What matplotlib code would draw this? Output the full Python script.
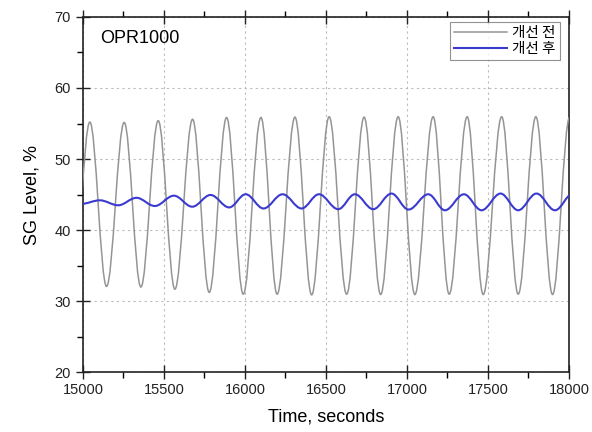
import numpy as np
import matplotlib
matplotlib.use("Agg")
import matplotlib.pyplot as plt
from matplotlib.path import Path
from matplotlib.patches import PathPatch
from matplotlib.lines import Line2D
from matplotlib.ticker import MultipleLocator

# Extrema (time, value)
gray_t = [14938, 15043, 15146, 15255, 15358, 15465, 15568, 15677, 15780, 15887,
          15990, 16099, 16199, 16309, 16412, 16520, 16628, 16736, 16838, 16946,
          17049, 17162, 17261, 17372, 17471, 17585, 17687, 17796, 17899, 18005]
gray_v = [32.0, 55.2, 32.1, 55.15, 32.0, 55.4, 31.7, 55.6, 31.25, 55.85,
          31.0, 55.85, 31.0, 55.9, 30.9, 55.95, 31.0, 55.9, 30.95, 55.95,
          30.95, 55.95, 31.0, 55.95, 30.95, 55.95, 31.0, 55.95, 30.95, 55.9]

blue_t = [14990, 15105, 15218, 15331, 15444, 15562, 15675, 15788, 15903, 16005,
          16115, 16233, 16350, 16457, 16576, 16679, 16792, 16905, 17010, 17132,
          17235, 17352, 17461, 17578, 17687, 17800, 17914, 18025]
blue_v = [43.7, 44.2, 43.5, 44.55, 43.4, 44.85, 43.3, 44.95, 43.2, 45.05,
          43.05, 45.05, 43.05, 45.05, 42.95, 45.05, 42.95, 45.15, 42.9, 45.05,
          42.8, 45.05, 42.8, 45.15, 42.8, 45.15, 42.8, 45.15]

series_labels = ["개선 전", "개선 후"]
x_ticks = [15000, 15500, 16000, 16500, 17000, 17500, 18000]
y_ticks = [20, 30, 40, 50, 60, 70]

plt.rcParams['font.family'] = ['Liberation Sans', 'DejaVu Sans']

def smooth_path(ts, vs):
    k = 1 - 2 / np.pi
    verts = [(ts[0], vs[0])]
    codes = [Path.MOVETO]
    for i in range(len(ts) - 1):
        t0, t1 = ts[i], ts[i + 1]
        v0, v1 = vs[i], vs[i + 1]
        h = (t1 - t0) * k
        verts += [(t0 + h, v0), (t1 - h, v1), (t1, v1)]
        codes += [Path.CURVE4] * 3
    return Path(verts, codes)

fig = plt.figure(figsize=(5.92, 4.32), dpi=100)
ax = fig.add_axes([0.140, 0.138, 0.821, 0.823])

gray_c = '#959595'
blue_c = '#3a3ad0'
ax.add_patch(PathPatch(smooth_path(gray_t, gray_v), fill=False, edgecolor=gray_c, lw=1.1, zorder=3))
ax.add_patch(PathPatch(smooth_path(blue_t, blue_v), fill=False, edgecolor=blue_c, lw=1.5, zorder=4))

ax.set_xlim(x_ticks[0], x_ticks[-1])
ax.set_ylim(y_ticks[0], y_ticks[-1])
ax.set_xticks(x_ticks)
ax.set_yticks(y_ticks)
ax.xaxis.set_minor_locator(MultipleLocator(250))
ax.yaxis.set_minor_locator(MultipleLocator(5))
ax.tick_params(which='major', direction='inout', length=10, width=1.0, labelsize=10.5,
               top=True, right=False, colors='#222222')
ax.tick_params(which='minor', direction='out', length=4, width=1.0, top=True, right=False)
ax.tick_params(axis='x', which='major', pad=3)
for s in ax.spines.values():
    s.set_linewidth(1.2)
    s.set_color('#222222')

ax.grid(True, which='major', linestyle=(0, (2, 3)), color='#bbbbbb', lw=0.8, zorder=0)

ax.set_xlabel('Time, seconds', fontsize=13, labelpad=8)
ax.set_ylabel('SG Level, %', fontsize=13, labelpad=10)

ax.text(0.035, 0.94, 'OPR1000', transform=ax.transAxes, fontsize=13, va='center', ha='left')

handles = [Line2D([], [], color=gray_c, lw=1.1), Line2D([], [], color=blue_c, lw=1.5)]
leg = ax.legend(handles, series_labels, loc='upper right',
                bbox_to_anchor=(0.982, 0.986),
                prop={'family': ['Noto Sans CJK KR', 'DejaVu Sans'], 'size': 10.5},
                frameon=True, fancybox=False, borderaxespad=0.0, handlelength=3.6,
                labelspacing=0.1, borderpad=0.3, handletextpad=0.4)
leg.get_frame().set_edgecolor('#777777')
leg.get_frame().set_linewidth(0.8)

fig.savefig('out.png', dpi=100)
